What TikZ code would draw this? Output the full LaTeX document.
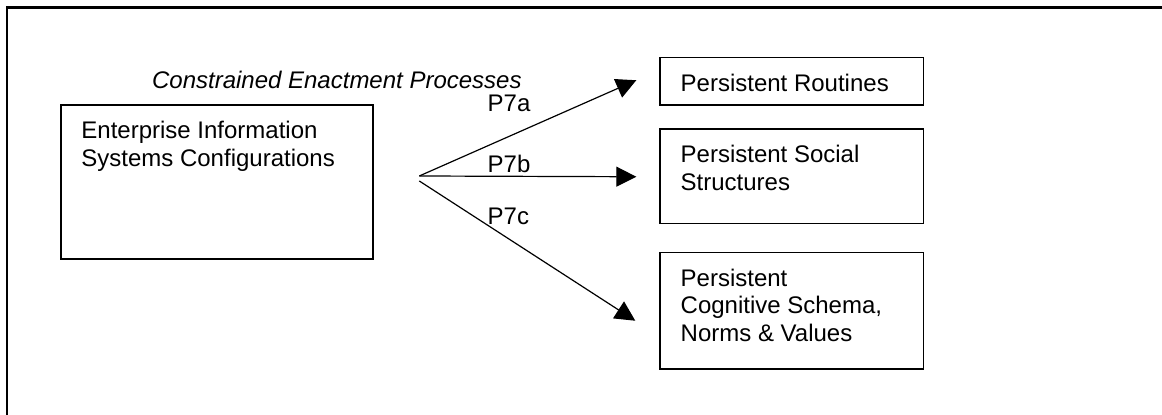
\documentclass[tikz,border=0pt]{standalone}
\usepackage{fontspec}
\setmainfont{Liberation Sans}
\usetikzlibrary{arrows.meta}

\begin{document}
\begin{tikzpicture}[x=0.5pt,y=-0.5pt,
        box/.style={draw,line width=0.75pt,inner sep=0pt,anchor=north west},
        boxtext/.style={font=\fontsize{12}{13.85}\selectfont,align=left,inner sep=0pt,anchor=north west},
        plabel/.style={font=\fontsize{12}{13.85}\selectfont,inner sep=0pt,anchor=base west},
        link/.style={line width=0.6pt,-{Triangle[length=10pt,width=10pt]}}]
        \useasboundingbox (0,0) rectangle (1162,415);
        \clip (0,0) rectangle (1162,415);
        \draw[line width=1.1pt] (7,430) -- (7,7.5) -- (1180,7.5);
        \node[box,minimum width=156pt,minimum height=77pt] (eis) at (60,104.3) {};
        \node[boxtext] (eistext) at ([shift={(21,16.6)}]eis.north west) {Enterprise Information\\Systems Configurations};
        \node[box,minimum width=131.75pt,minimum height=23.8pt] (rout) at (659.3,56.7) {};
        \node[boxtext] (routtext) at ([shift={(21,16.6)}]rout.north west) {Persistent Routines};
        \node[box,minimum width=131.75pt,minimum height=47.2pt] (soc) at (659.3,128.3) {};
        \node[boxtext] (soctext) at ([shift={(21,16.6)}]soc.north west) {Persistent Social\\Structures};
        \node[box,minimum width=131.75pt,minimum height=58.3pt] (cog) at (659.3,251.7) {};
        \node[boxtext] (cogtext) at ([shift={(21,16.6)}]cog.north west) {Persistent\\Cognitive Schema,\\Norms \& Values};
        \node[plabel,font=\fontsize{12}{13.85}\selectfont\itshape] (cep) at (151.7,88.3) {Constrained Enactment Processes};
        \coordinate (fork) at (419.3,176);
        \coordinate (forklow) at (419.3,181);
        \draw[link] (fork) -- ([shift={(-23,-1)}]rout.west);
        \draw[link] (fork) -- ([shift={(-23,0.5)}]soc.west);
        \draw[link] (forklow) -- ([shift={(-24,10)}]cog.west);
        \node[plabel] (p7a) at (487.3,111.7) {P7a};
        \node[plabel] (p7b) at (487.3,172.3) {P7b};
        \node[plabel] (p7c) at (487.3,225) {P7c};
\end{tikzpicture}
\end{document}
